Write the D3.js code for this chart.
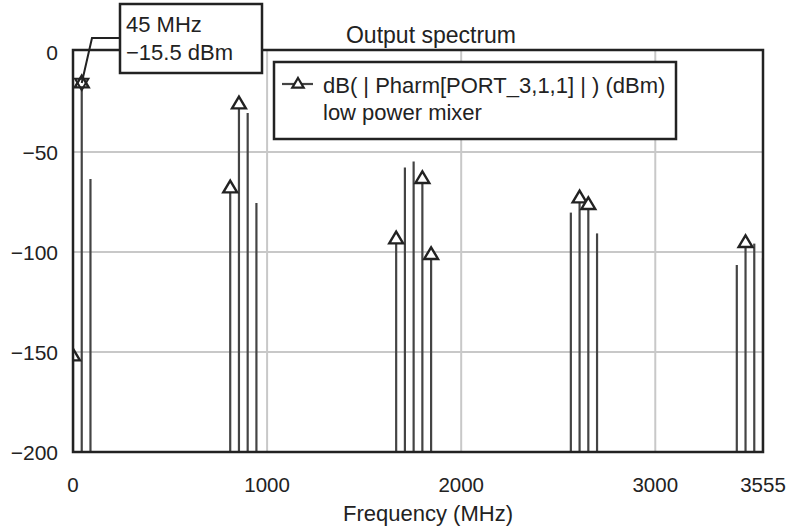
<!DOCTYPE html>
<html><head><meta charset="utf-8">
<script src="https://cdn.jsdelivr.net/npm/d3@7"></script>
<style>
html,body{margin:0;padding:0;background:#fff;}
svg{display:block;font-family:"Liberation Sans",Arial,Helvetica,sans-serif;}
</style></head>
<body><svg id="c" width="786" height="529"></svg>
<script>
// Data
const freqs = [0, 45, 90, 810, 855, 900, 945, 1665, 1710, 1755, 1800, 1845, 2565, 2610, 2655, 2700, 3420, 3465, 3510, 3555];
const powerDbm = [-152, -15.5, -63.5, -68, -26, -30.5, -75.5, -93.5, -57.8, -54.8, -63.3, -101.3, -80.3, -73, -76.3, -90.7, -106.5, -95.3, -95.8, -103];
const markedFreqs = [0, 45, 810, 855, 1665, 1800, 1845, 2610, 2655, 3465];
const xTicks = [0, 1000, 2000, 3000, 3555];
const yTicks = [0, -50, -100, -150, -200];
const yGrid = [-50, -100, -150];
const xGrid = [1000, 2000, 3000];
const titleText = "Output spectrum";
const xLabel = "Frequency (MHz)";
const legendLines = ["dB( | Pharm[PORT_3,1,1] | ) (dBm)", "low power mixer"];
const markerFreq = 45, markerVal = -15.5;
const markerLines = ["45 MHz", "\u221215.5 dBm"];

const svg = d3.select("#c");
const L = 73, R = 763, T = 50, B = 452;
const x = d3.scaleLinear().domain([0, 3555]).range([L, R]);
const y = d3.scaleLinear().domain([-200, 1]).range([B, T]);
const dark = "#222", lineCol = "#444", gridCol = "#c8c8c8";
const fmt = v => v < 0 ? "\u2212" + Math.abs(v) : String(v);

// grid
svg.append("g").selectAll("line").data(yGrid).join("line")
  .attr("x1", L).attr("x2", R).attr("y1", d => y(d)).attr("y2", d => y(d))
  .attr("stroke", gridCol).attr("stroke-width", 2);
svg.append("g").selectAll("line").data(xGrid).join("line")
  .attr("x1", d => x(d)).attr("x2", d => x(d)).attr("y1", T).attr("y2", B)
  .attr("stroke", gridCol).attr("stroke-width", 2);

// clip
svg.append("clipPath").attr("id", "clip").append("rect")
  .attr("x", L).attr("y", T).attr("width", R - L).attr("height", B - T);

const g = svg.append("g").attr("clip-path", "url(#clip)");
const data = freqs.map((f, i) => ({f, v: powerDbm[i]}));
g.selectAll("line.sp").data(data).join("line").attr("class", "sp")
  .attr("x1", d => x(d.f)).attr("x2", d => x(d.f))
  .attr("y1", B).attr("y2", d => y(d.v))
  .attr("stroke", lineCol).attr("stroke-width", 2.2);

const tri = (cx, cy, s) => `M${cx},${cy - s}L${cx + s * 0.95},${cy + s * 0.6}L${cx - s * 0.95},${cy + s * 0.6}Z`;
const triDown = (cx, cy, s) => `M${cx},${cy + s}L${cx + s * 0.95},${cy - s * 0.6}L${cx - s * 0.95},${cy - s * 0.6}Z`;
g.selectAll("path.mk").data(data.filter(d => markedFreqs.includes(d.f))).join("path").attr("class", "mk")
  .attr("d", d => tri(x(d.f), y(d.v), 7.3))
  .attr("fill", "#fff").attr("stroke", dark).attr("stroke-width", 2.4).attr("stroke-linejoin", "miter");
// marker (inverted triangle) at 45 MHz
g.append("path").attr("d", triDown(x(markerFreq), y(markerVal), 7))
  .attr("fill", "none").attr("stroke", dark).attr("stroke-width", 2);

// frame
svg.append("rect").attr("x", L).attr("y", T).attr("width", R - L).attr("height", B - T)
  .attr("fill", "none").attr("stroke", dark).attr("stroke-width", 2.5);

// title
svg.append("text").attr("x", 431).attr("y", 43).attr("text-anchor", "middle")
  .attr("font-size", 23).attr("fill", "#222").text(titleText);

// y tick labels
svg.append("g").selectAll("text").data(yTicks).join("text")
  .attr("x", 58).attr("y", d => y(d) + 7.5).attr("text-anchor", "end")
  .attr("font-size", 21).attr("fill", "#222").text(fmt);
// x tick labels
svg.append("g").selectAll("text").data(xTicks).join("text")
  .attr("x", d => x(d)).attr("y", 492).attr("text-anchor", "middle")
  .attr("font-size", 20.5).attr("fill", "#222").text(d => String(d));
svg.append("text").attr("x", 428).attr("y", 521).attr("text-anchor", "middle")
  .attr("font-size", 22).attr("fill", "#222").text(xLabel);

// legend
const lg = svg.append("g");
lg.append("rect").attr("x", 274).attr("y", 62).attr("width", 402).attr("height", 77)
  .attr("fill", "#fff").attr("stroke", dark).attr("stroke-width", 2.5);
lg.append("line").attr("x1", 282).attr("x2", 313).attr("y1", 84).attr("y2", 84)
  .attr("stroke", lineCol).attr("stroke-width", 2.2);
lg.append("path").attr("d", tri(298, 84, 6)).attr("fill", "#fff").attr("stroke", dark).attr("stroke-width", 2.2);
lg.selectAll("text").data(legendLines).join("text")
  .attr("x", 323).attr("y", (d, i) => 93 + i * 27)
  .attr("font-size", 22).attr("fill", "#222").text(d => d);

// marker annotation
svg.append("path")
  .attr("d", `M120,38L92,38L${x(markerFreq)},${y(markerVal)}`)
  .attr("fill", "none").attr("stroke", dark).attr("stroke-width", 2);
svg.append("rect").attr("x", 120).attr("y", 4).attr("width", 142).attr("height", 69)
  .attr("fill", "#fff").attr("stroke", dark).attr("stroke-width", 2.5);
svg.append("g").selectAll("text").data(markerLines).join("text")
  .attr("x", 126).attr("y", (d, i) => 32 + i * 28)
  .attr("font-size", 22).attr("fill", "#222").text(d => d);
</script></body></html>
